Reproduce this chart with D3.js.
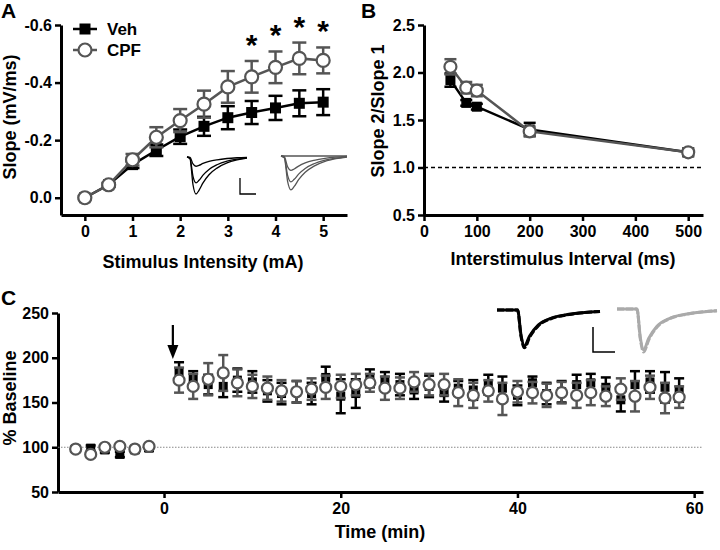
<!DOCTYPE html>
<html>
<head>
<meta charset="utf-8">
<script src="https://cdn.jsdelivr.net/npm/d3@7"></script>
<style>
  body { margin: 0; background: #fff; }
  text { font-family: "Liberation Sans", Arial, sans-serif; font-weight: bold; }
</style>
</head>
<body>
<div id="chart"></div>
<script>
'use strict';

// ---- panel A : input/output ----
const stimulus = [0, 0.5, 1, 1.5, 2, 2.5, 3, 3.5, 4, 4.5, 5];
const vehSlope = [0, -0.045, -0.115, -0.165, -0.212, -0.248, -0.278, -0.296, -0.312, -0.328, -0.332];
const vehSlopeErr = [0.004, 0.006, 0.012, 0.02, 0.025, 0.033, 0.04, 0.04, 0.042, 0.045, 0.045];
const cpfSlope = [0, -0.045, -0.132, -0.21, -0.268, -0.325, -0.385, -0.42, -0.453, -0.484, -0.477];
const cpfSlopeErr = [0.004, 0.006, 0.02, 0.035, 0.04, 0.047, 0.055, 0.055, 0.055, 0.055, 0.045];
const sigStim = [3.5, 4, 4.5, 5];
const aYTicks = [0, -0.2, -0.4, -0.6];
const aXTicks = [0, 1, 2, 3, 4, 5];

// ---- panel B : paired pulse ----
const isi = [50, 80, 100, 200, 500];
const vehPPR = [1.92, 1.68, 1.64, 1.40, 1.16];
const vehPPRErr = [0.07, 0.03, 0.03, 0.07, 0.04];
const cpfPPR = [2.06, 1.84, 1.81, 1.38, 1.16];
const cpfPPRErr = [0.08, 0.06, 0.06, 0.05, 0.04];
const bYTicks = [0.5, 1.0, 1.5, 2.0, 2.5];
const bXTicks = [0, 100, 200, 300, 400, 500];

// ---- panel C : LTP time course ----
const times = [-10, -8.3, -6.7, -5, -3.3, -1.7,
  1.7, 3.3, 5, 6.7, 8.3, 10, 11.7, 13.3, 15, 16.7, 18.3, 20, 21.7, 23.3, 25, 26.7, 28.3,
  30, 31.7, 33.3, 35, 36.7, 38.3, 40, 41.7, 43.3, 45, 46.7, 48.3, 50, 51.7, 53.3, 55, 56.7, 58.3];
const vehLTP = [98, 99, 97, 92, 97, 99,
  184, 177, 170, 168, 175, 173, 163, 160, 162, 160, 178, 157, 160, 177, 175, 170, 164,
  168, 161, 166, 164, 170, 166, 158, 172, 160, 162, 170, 172, 167, 153, 170, 173, 167, 164];
const vehLTPErr = [3, 3, 3, 3, 3, 3,
  11, 8, 11, 12, 13, 12, 12, 12, 12, 12, 12, 19, 16, 10, 9, 12, 10,
  12, 10, 8, 11, 11, 13, 11, 7, 12, 12, 11, 10, 11, 13, 15, 12, 17, 13];
const cpfLTP = [98, 92, 100, 101, 98, 101,
  175, 168, 176, 183, 172, 168, 166, 163, 162, 165, 167, 168, 170, 172, 166, 166, 173,
  170, 170, 161, 158, 163, 154, 162, 161, 158, 161, 158, 161, 157, 165, 157, 167, 155, 156];
const cpfLTPErr = [3, 3, 3, 3, 3, 3,
  14, 14, 18, 20, 15, 13, 13, 12, 12, 12, 13, 13, 12, 10, 13, 12, 11,
  12, 12, 15, 14, 12, 18, 12, 12, 13, 12, 14, 14, 11, 12, 17, 13, 17, 12];
const cYTicks = [50, 100, 150, 200, 250];
const cXTicks = [0, 20, 40, 60];

// ---- inset trace shapes (normalised) ----
const traceTime = [0, 3, 6, 9, 12, 16, 22, 30, 40, 50, 60];
const traceShape = [0, -0.05, -0.75, -1, -0.9, -0.7, -0.48, -0.3, -0.16, -0.08, -0.03];
const aBlackAmps = [0.25, 0.7, 1.0];
const aGreyAmps = [0, 0.4, 0.72, 0.94];
const ltpTraceTime = [0, 12, 14, 16, 19, 24, 32, 42, 60];
const ltpTraceShape = [0, 0, -0.7, -1, -0.72, -0.42, -0.22, -0.12, -0.04];

const BLACK = '#000';
const GREY = '#555';

(function() {
  const svg = d3.select('#chart').append('svg')
    .attr('width', 720)
    .attr('height', 550);

  // plain hyphen minus, as in the original figure
  const fmt1 = d => d.toFixed(1);
  const fmt0 = d => d.toFixed(0);

  // generic axis styling
  function styleAxis(g) {
    g.select('.domain').attr('stroke', BLACK).attr('stroke-width', 3);
    g.selectAll('.tick line').attr('stroke', BLACK).attr('stroke-width', 2.5);
    g.selectAll('.tick text').attr('fill', BLACK)
      .style('font-size', '16px').style('font-weight', 'bold')
      .attr('font-family', null);
  }

  function drawAxes(x, y, xTicks, yTicks, xFmt, yFmt) {
    const xAxis = d3.axisBottom(x).tickValues(xTicks).tickSize(6).tickSizeOuter(0)
      .tickPadding(5).tickFormat(xFmt);
    const yAxis = d3.axisLeft(y).tickValues(yTicks).tickSize(6).tickSizeOuter(0)
      .tickPadding(3).tickFormat(yFmt);
    svg.append('g')
      .attr('transform', `translate(0, ${y.range()[0]})`)
      .call(xAxis).call(styleAxis);
    svg.append('g')
      .attr('transform', `translate(${x.range()[0]}, 0)`)
      .call(yAxis).call(styleAxis);
  }

  function label(x, y, txt, size, rotate) {
    svg.append('text')
      .attr('transform', `translate(${x}, ${y})` + (rotate ? 'rotate(-90)' : ''))
      .attr('text-anchor', 'middle')
      .style('font-size', size + 'px')
      .text(txt);
  }

  // one series: optional line, error bars, markers
  function drawSeries(xs, ys, errs, x, y, opt) {
    const pts = xs.map((d, i) => ({ x: d, y: ys[i], e: errs[i] }));
    const g = svg.append('g');
    if (opt.line) {
      g.append('path')
        .datum(pts)
        .attr('fill', 'none')
        .attr('stroke', opt.color)
        .attr('stroke-width', 2.5)
        .attr('d', d3.line().x(d => x(d.x)).y(d => y(d.y)));
    }
    const eb = g.selectAll('.eb').data(pts).enter().append('g');
    eb.append('line')
      .attr('x1', d => x(d.x)).attr('x2', d => x(d.x))
      .attr('y1', d => y(d.y - d.e)).attr('y2', d => y(d.y + d.e))
      .attr('stroke', opt.color).attr('stroke-width', 2.5);
    [1, -1].forEach(s => {
      eb.append('line')
        .attr('x1', d => x(d.x) - opt.cap / 2).attr('x2', d => x(d.x) + opt.cap / 2)
        .attr('y1', d => y(d.y + s * d.e)).attr('y2', d => y(d.y + s * d.e))
        .attr('stroke', opt.color).attr('stroke-width', 2.5);
    });
    if (opt.shape === 'square') {
      g.selectAll('.m').data(pts).enter().append('rect')
        .attr('x', d => x(d.x) - opt.size / 2)
        .attr('y', d => y(d.y) - opt.size / 2)
        .attr('width', opt.size).attr('height', opt.size)
        .attr('fill', opt.color);
    } else {
      g.selectAll('.m').data(pts).enter().append('circle')
        .attr('cx', d => x(d.x)).attr('cy', d => y(d.y))
        .attr('r', opt.size / 2)
        .attr('fill', '#fff')
        .attr('stroke', opt.color).attr('stroke-width', 2.2);
    }
  }

  function drawTrace(tx, ty, shapeT, shape, amp, color, width, dash) {
    svg.append('path')
      .datum(shapeT.map((t, i) => [t, shape[i] * amp]))
      .attr('fill', 'none')
      .attr('stroke', color)
      .attr('stroke-width', width)
      .attr('stroke-dasharray', dash || null)
      .attr('d', d3.line().x(d => tx(d[0])).y(d => ty(d[1])).curve(d3.curveMonotoneX));
  }

  function scaleBar(x0, y0, x1, y1, w) {
    svg.append('path')
      .attr('d', `M${x0},${y0}V${y1}H${x1}`)
      .attr('fill', 'none').attr('stroke', BLACK).attr('stroke-width', w);
  }

  // ===== Panel A =====
  function panelA() {
    const x = d3.scaleLinear().domain([-0.5, 5.5]).range([61, 347]);
    const y = d3.scaleLinear().domain([0.06, -0.6]).range([215, 25]);
    drawAxes(x, y, aXTicks, aYTicks, fmt0, fmt1);

    drawSeries(stimulus, vehSlope, vehSlopeErr, x, y,
      { color: BLACK, shape: 'square', size: 11, cap: 14, line: true });
    drawSeries(stimulus, cpfSlope, cpfSlopeErr, x, y,
      { color: GREY, shape: 'circle', size: 13, cap: 14, line: true });

    // significance stars
    sigStim.forEach(s => {
      const i = stimulus.indexOf(s);
      svg.append('text')
        .attr('x', x(s)).attr('y', y(cpfSlope[i] - cpfSlopeErr[i]) - 6)
        .attr('text-anchor', 'middle')
        .style('font-size', '30px')
        .text('*');
    });

    // legend
    const legend = [{ name: 'Veh', color: BLACK, shape: 'square', y: 29 },
                    { name: 'CPF', color: GREY, shape: 'circle', y: 50 }];
    legend.forEach(l => {
      svg.append('line').attr('x1', 73).attr('x2', 97).attr('y1', l.y).attr('y2', l.y)
        .attr('stroke', l.color).attr('stroke-width', 2.5);
      if (l.shape === 'square') {
        svg.append('rect').attr('x', 85 - 5.5).attr('y', l.y - 5.5)
          .attr('width', 11).attr('height', 11).attr('fill', l.color);
      } else {
        svg.append('circle').attr('cx', 85).attr('cy', l.y).attr('r', 6.5)
          .attr('fill', '#fff').attr('stroke', l.color).attr('stroke-width', 2.2);
      }
      svg.append('text').attr('x', 107).attr('y', l.y + 6)
        .style('font-size', '17px').text(l.name);
    });

    // insets: example traces
    const tb = d3.scaleLinear().domain([0, 60]).range([187, 247]);
    const yb = d3.scaleLinear().domain([0, -1]).range([157, 194]);
    aBlackAmps.forEach(a => drawTrace(tb, yb, traceTime, traceShape, a, BLACK, 1.3));
    const tg = d3.scaleLinear().domain([0, 60]).range([281, 347]);
    const yg = d3.scaleLinear().domain([0, -1]).range([156, 192]);
    aGreyAmps.forEach(a => drawTrace(tg, yg, traceTime, traceShape, a, GREY, 1.3));
    scaleBar(240, 178, 256, 194, 1.3);

    svg.append('text').attr('x', 1).attr('y', 18).style('font-size', '21px').text('A');
    label(16, 117, 'Slope (mV/ms)', 18, true);
    label(203, 268, 'Stimulus Intensity (mA)', 18, false);
  }

  // ===== Panel B =====
  function panelB() {
    const x = d3.scaleLinear().domain([0, 528]).range([424, 703]);
    const y = d3.scaleLinear().domain([0.5, 2.5]).range([215, 25]);
    drawAxes(x, y, bXTicks, bYTicks, fmt0, fmt1);

    svg.append('line')
      .attr('x1', x(0)).attr('x2', x(528)).attr('y1', y(1)).attr('y2', y(1))
      .attr('stroke', BLACK).attr('stroke-width', 1.5).attr('stroke-dasharray', '4,3');

    drawSeries(isi, vehPPR, vehPPRErr, x, y,
      { color: BLACK, shape: 'square', size: 10, cap: 12, line: true });
    drawSeries(isi, cpfPPR, cpfPPRErr, x, y,
      { color: GREY, shape: 'circle', size: 12, cap: 12, line: true });

    svg.append('text').attr('x', 361).attr('y', 18).style('font-size', '21px').text('B');
    label(384, 111, 'Slope 2/Slope 1', 18, true);
    label(563, 265, 'Interstimulus Interval (ms)', 18, false);
  }

  // ===== Panel C =====
  function panelC() {
    const x = d3.scaleLinear().domain([-12, 61]).range([58, 703]);
    const y = d3.scaleLinear().domain([50, 250]).range([492, 313]);
    drawAxes(x, y, cXTicks, cYTicks, fmt0, fmt0);

    svg.append('line')
      .attr('x1', x(-12)).attr('x2', x(61)).attr('y1', y(100)).attr('y2', y(100))
      .attr('stroke', '#888').attr('stroke-width', 1).attr('stroke-dasharray', '1.5,1.5');

    drawSeries(times, vehLTP, vehLTPErr, x, y,
      { color: BLACK, shape: 'square', size: 9, cap: 10, line: false });
    drawSeries(times, cpfLTP, cpfLTPErr, x, y,
      { color: GREY, shape: 'circle', size: 11, cap: 10, line: false });

    // tetanus arrow
    svg.append('line').attr('x1', x(1)).attr('x2', x(1)).attr('y1', 325).attr('y2', 348)
      .attr('stroke', BLACK).attr('stroke-width', 2.2);
    svg.append('path')
      .attr('d', `M${x(1) - 5.5},345L${x(1) + 5.5},345L${x(1)},359Z`)
      .attr('fill', BLACK);

    // example traces
    const tb = d3.scaleLinear().domain([0, 60]).range([497, 600]);
    const yb = d3.scaleLinear().domain([0, -1]).range([310, 346]);
    drawTrace(tb, yb, ltpTraceTime, ltpTraceShape, 1, BLACK, 3);
    drawTrace(tb, yb, ltpTraceTime, ltpTraceShape, 1.05, BLACK, 3, '7,2');
    const tg = d3.scaleLinear().domain([0, 60]).range([617, 717]);
    const yg = d3.scaleLinear().domain([0, -1]).range([309, 350]);
    drawTrace(tg, yg, ltpTraceTime, ltpTraceShape, 1, '#aaa', 3);
    drawTrace(tg, yg, ltpTraceTime, ltpTraceShape, 1.05, '#aaa', 3, '7,2');
    scaleBar(593, 327, 615, 352, 1.5);

    svg.append('text').attr('x', 1).attr('y', 305).style('font-size', '21px').text('C');
    label(16, 398, '% Baseline', 18, true);
    label(380, 538, 'Time (min)', 18, false);
  }

  panelA();
  panelB();
  panelC();
})();
</script>
</body>
</html>
